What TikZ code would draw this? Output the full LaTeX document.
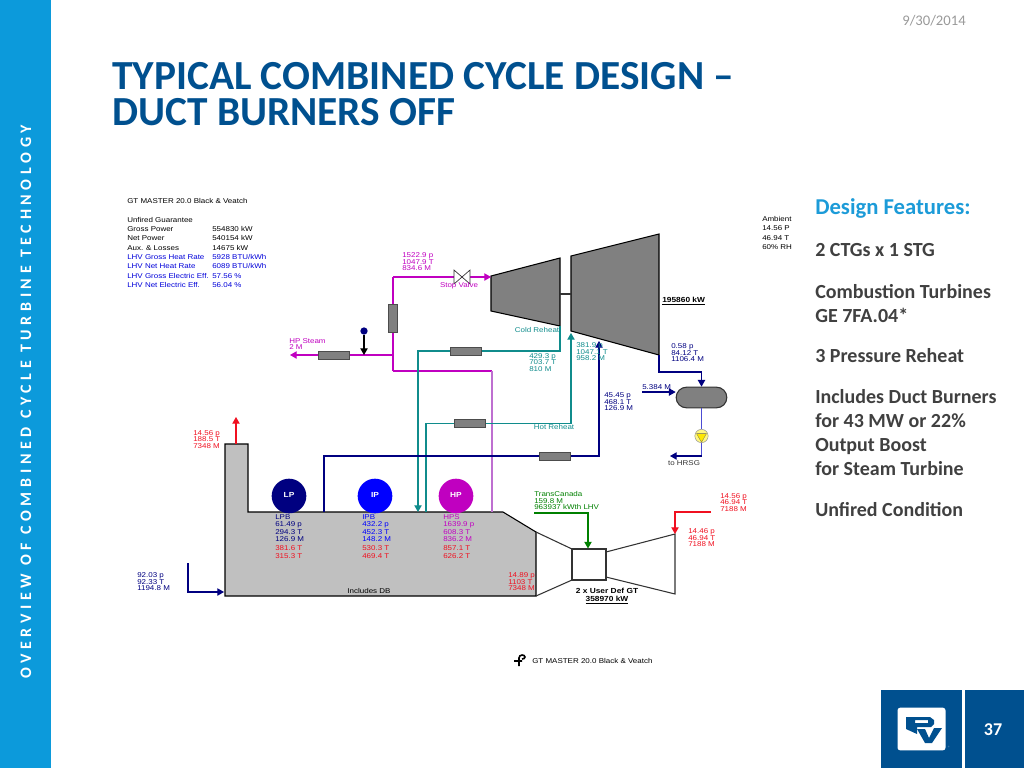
\documentclass[tikz,border=0pt]{standalone}
\usepackage{fontspec}
\setmainfont{Carlito}
\setsansfont[FakeStretch=1.14]{Liberation Sans}
\newfontfamily\spaced[LetterSpace=29]{Carlito}
\usetikzlibrary{positioning,arrows.meta,shapes.misc,shapes.geometric}
\definecolor{barblue}{HTML}{0C9ADB}
\definecolor{titleblue}{HTML}{00508F}
\definecolor{featblue}{HTML}{1C9BD8}
\definecolor{mainpink}{HTML}{C000C0}
\definecolor{hppink}{HTML}{BE6FD0}
\definecolor{reheat}{HTML}{108C8C}
\definecolor{navyline}{HTML}{000080}
\definecolor{gasgray}{HTML}{C0C0C0}
\definecolor{darkgray}{HTML}{808080}
\definecolor{gasred}{HTML}{F01020}
\definecolor{fuelgreen}{HTML}{008000}
\tikzset{
  lbl/.style={font=\sffamily\fontsize{5.25}{6}\selectfont,inner sep=0pt,anchor=west,align=left},
  boldlbl/.style={lbl,font=\sffamily\bfseries\fontsize{5.5}{6}\selectfont},
  feat/.style={inner sep=0pt,anchor=west,font=\fontsize{15}{18}\selectfont\bfseries,text=black!75,align=left},
  hx/.style={draw=black!70,fill=darkgray,line width=.5pt,minimum width=23.25pt,minimum height=6pt,inner sep=0pt},
  vhx/.style={hx,minimum width=6.5pt,minimum height=21pt},
  drum/.style={circle,minimum size=26pt,inner sep=0pt,text=white,font=\sffamily\bfseries\fontsize{5.5}{6}\selectfont},
  pipe/.style={line width=.8pt},
  tip/.style={-{Triangle[length=5pt,width=5.5pt]}},
  title/.style={anchor=west,text=titleblue,font=\fontsize{31}{27}\selectfont\bfseries,inner sep=0pt,align=left},
}
\newcommand{\three}[3]{\begin{tabular}{@{}l@{}}#1\\[-1.2pt]#2\\[-1.2pt]#3\end{tabular}}
\newcommand{\two}[2]{\begin{tabular}{@{}l@{}}#1\\[-1.2pt]#2\end{tabular}}
\newcommand{\four}[4]{\begin{tabular}{@{}l@{}}#1\\[-.5pt]#2\\[-.5pt]#3\\[-.5pt]#4\end{tabular}}
\newcommand{\redtwo}[2]{\begin{tabular}{@{}l@{}}#1\\#2\end{tabular}}
\begin{document}
\begin{tikzpicture}[x=.75pt,y=-.75pt]
\useasboundingbox (0,0) rectangle (1024,768);
% slide
\fill[barblue] (0,0) rectangle (51,768);
\node[rotate=90,text=white,font=\spaced\fontsize{12}{12}\selectfont\bfseries,inner sep=0pt] (band) at (26,402) {OVERVIEW OF COMBINED CYCLE TURBINE TECHNOLOGY};
\node[text=black!40,font=\fontsize{11}{11}\selectfont,inner sep=0pt] (date) at (934,21) {9/30/2014};
\node[title] (title) at (112,94.5) {TYPICAL COMBINED CYCLE DESIGN --\\DUCT BURNERS OFF};
% features
\node[feat,text=featblue,font=\fontsize{17}{18}\selectfont\bfseries] (f0) at (815,208) {Design Features:};
\node[feat] (f1) at (815,250) {2 CTGs x 1 STG};
\node[feat] (f2) at (815,303.5) {Combustion Turbines\\GE 7FA.04*};
\node[feat] (f3) at (815,356) {3 Pressure Reheat};
\node[feat] (f4) at (815,433) {Includes Duct Burners\\for 43 MW or 22\%\\Output Boost\\for Steam Turbine};
\node[feat] (f5) at (815,510) {Unfired Condition};
% footer
\fill[titleblue] (881,690) rectangle (962,768);
\fill[titleblue] (965,690) rectangle (1024,768);
\node[text=white,font=\fontsize{13.5}{14}\selectfont\bfseries,inner sep=0pt] (page) at (993,730) {37};
\node[fill=white,rounded corners=2pt,minimum width=36pt,minimum height=32pt,inner sep=0pt] (logo) at (921.5,729) {};
\fill[titleblue,even odd rule] (906,717) -- (930,717) -- (934,720) -- (934,724) -- (931,727) -- (917,727) -- (917,734) -- (906,729) -- cycle (915,720) rectangle (928,723);
\fill[titleblue] (917,729) -- (925,729) -- (929,738) -- (934,728) -- (942,728) -- (932,743) -- (925,743) -- cycle;
\node[text=titleblue!60,font=\fontsize{3.5}{4}\selectfont,inner sep=0pt] (reg) at (949,748) {®};
% header tables
\node[lbl] (head) at (127,201) {GT MASTER 20.0 Black \& Veatch};
\node[lbl] (t1) at (127,220) {Unfired Guarantee};
\foreach \yy/\aa/\bb/\cc in {229/Gross Power/554830 kW/black,238/Net Power/540154 kW/black,248/Aux. \& Losses/14675 kW/black,
  257/LHV Gross Heat Rate/{5928 BTU/kWh}/blue!85!black,266/LHV Net Heat Rate/{6089 BTU/kWh}/blue!85!black,
  276/LHV Gross Electric Eff./57.56 \%/blue!85!black,285/LHV Net Electric Eff./56.04 \%/blue!85!black}{
  \node[lbl,text=\cc] at (127,\yy) {\aa};
  \node[lbl,text=\cc] at (212,\yy) {\bb};
}
\node[lbl,anchor=north west,font=\sffamily\fontsize{5.25}{7}\selectfont] (amb) at (762,216) {Ambient\\14.56 P\\46.94 T\\60\% RH};
% boiler and gas turbine
\filldraw[fill=gasgray,draw=black,line width=.8pt] (225,596) -- (225,444) -- (248,444) -- (248,512) -- (503,512) -- (536,532) -- (536,596) -- cycle;
\draw[line width=.8pt,black!80] (536,532) -- (572,549) (536,596) -- (572,580);
\node[draw=black!80,line width=.8pt,minimum width=25.5pt,minimum height=23.25pt,inner sep=0pt] (gt) at (589,564.5) {};
\draw[line width=.8pt,black!80] (606,552) -- (675,534) -- (675,594) -- (606,577);
\node[drum,fill=navyline] (lp) at (289,496) {\raisebox{2pt}{LP}};
\node[drum,fill=blue] (ip) at (375,496) {\raisebox{2pt}{IP}};
\node[drum,fill=mainpink] (hp) at (456,496) {\raisebox{2pt}{HP}};
% steam turbines
\filldraw[fill=darkgray,draw=black,line width=.8pt] (491,276) -- (560,258) -- (560,326) -- (491,311) -- cycle;
\filldraw[fill=darkgray,draw=black,line width=.8pt] (571,256) -- (659,234) -- (659,355) -- (571,331) -- cycle;
\coordinate (shaft_a) at (560,294);
\coordinate (shaft_b) at (571,294);
\draw[pipe,black!80] (shaft_a) -- (shaft_b);
% pipe ends
\coordinate (main_t) at (393,277);
\coordinate (main_j) at (393,355);
\coordinate (main_b) at (393,371);
\coordinate (hps_t) at (492,371);
\coordinate (hps_b) at (492,512);
\coordinate (hp_in) at (491,277);
\coordinate (hp_out) at (290,355);
\coordinate (crh_a) at (560,326);
\coordinate (crh_b) at (560,351);
\coordinate (crh_c) at (418,351);
\coordinate (crh_d) at (418,512);
\coordinate (hrh_a) at (571,333);
\coordinate (hrh_b) at (571,423.5);
\coordinate (hrh_c) at (426,423.5);
\coordinate (hrh_d) at (426,512);
\coordinate (lps_a) at (599,341);
\coordinate (lps_b) at (599,456);
\coordinate (lps_c) at (324,456);
\coordinate (lps_d) at (324,512);
\coordinate (ex_a) at (659,355);
\coordinate (ex_b) at (659,372);
\coordinate (ex_c) at (701.5,372);
\coordinate (mk_a) at (642,392);
\coordinate (cw_a) at (701.5,456);
\coordinate (cw_b) at (670,456);
\coordinate (st_a) at (236,444);
\coordinate (st_b) at (236,417);
\coordinate (air_a) at (188,563);
\coordinate (air_b) at (188,592);
\coordinate (air_c) at (224,592);
\coordinate (fu_a) at (534,513);
\coordinate (fu_b) at (588,513);
\coordinate (rd_a) at (711,512);
\coordinate (rd_b) at (675,512);
\coordinate (rd_c) at (675,534);
% condenser, pump
\node[rounded rectangle,draw=black!80,fill=darkgray,line width=.8pt,minimum width=38pt,minimum height=15.5pt,inner sep=0pt] (cond) at (701.5,397.5) {};
\node[circle,draw=black!40,fill=yellow!50!white,minimum size=10pt,inner sep=0pt] (pump) at (701.5,436) {};
% pipes
\draw[pipe,mainpink] (main_b) -- (hps_t);
\draw[pipe,hppink] (hps_t) -- (hps_b);
\draw[pipe,tip,reheat] (crh_a) -- (crh_b) -- (crh_c) -- (crh_d);
\draw[pipe,tip,reheat] (hrh_d) -- (hrh_c) -- (hrh_b) -- (hrh_a);
\draw[pipe,tip,navyline] (lps_d) -- (lps_c) -- (lps_b) -- (lps_a);
\draw[pipe,mainpink] (main_b) -- (main_t);
\draw[pipe,tip,mainpink] (main_t) -- (hp_in);
\draw[pipe,tip,mainpink] (main_j) -- (hp_out);
\draw[pipe,tip,navyline] (ex_a) -- (ex_b) -- (ex_c) -- (cond.north);
\draw[pipe,tip,navyline] (mk_a) -- (cond.west |- mk_a);
\draw[pipe,blue!50!navyline!70!white] (cond.south) -- (pump) -- (cw_a);
\draw[pipe,tip,navyline] (cw_a) -- (cw_b);
\draw[pipe,tip,gasred] (st_a) -- (st_b);
\draw[pipe,tip,navyline] (air_a) -- (air_b) -- (air_c);
\draw[pipe,tip,fuelgreen] (fu_a) -- (fu_b) -- (fu_b |- gt.north);
\draw[pipe,tip,gasred] (rd_a) -- (rd_b) -- (rd_c);
% pump triangle, valve
\node[isosceles triangle,shape border rotate=-90,fill=yellow!90!orange,draw=black!60,line width=.2pt,minimum size=6.5pt,isosceles triangle apex angle=60,inner sep=0pt] (pump_tri) at (701.5,436.5) {};
\filldraw[fill=white,draw=black!80,line width=.5pt] (454,270) -- (470,284) -- (470,270) -- (454,284) -- cycle;
% black branch
\node[circle,fill=navyline,minimum size=5.5pt,inner sep=0pt] (dot) at (364,331) {};
\coordinate (dot_b) at (364,355);
\draw[pipe,tip,black] (dot) -- (dot_b);
% heat exchangers
\node[hx] (hx_steam) at (333.5,355) {};
\node[vhx] (hx_main) at (393,318) {};
\node[hx] (hx_crh) at (465.5,351) {};
\node[hx] (hx_hrh) at (469.5,423.5) {};
\node[hx] (hx_lps) at (554.5,456) {};
% labels
\node[lbl,text=mainpink] (l1) at (402,262.5) {\three{1522.9 p}{1047.9 T}{834.6 M}};
\node[lbl,text=mainpink,anchor=center] (l2) at (459,286) {Stop Valve};
\node[lbl,text=mainpink] (l3) at (289,345) {\two{HP Steam}{2 M}};
\node[lbl,text=reheat,anchor=center] (l4) at (537,330) {Cold Reheat};
\node[lbl,text=reheat] (l5) at (529,363) {\three{429.3 p}{703.7 T}{810 M}};
\node[lbl,text=reheat] (l6) at (576,352.5) {\three{381.9 p}{1047.1 T}{958.2 M}};
\node[lbl,text=reheat,anchor=center] (l7) at (554,427) {Hot Reheat};
\node[lbl,text=navyline] (l8) at (671,353.5) {\three{0.58 p}{84.12 T}{1106.4 M}};
\node[lbl,text=navyline] (l9) at (604,402.5) {\three{45.45 p}{468.1 T}{126.9 M}};
\node[lbl,text=navyline] (l10) at (642,387) {5.384 M};
\node[lbl,text=black!80,anchor=center] (l11) at (684,463) {to HRSG};
\node[boldlbl] (l12) at (662,301) {\underline{195860 kW}};
\node[lbl,text=gasred] (l13) at (193,440) {\three{14.56 p}{188.5 T}{7348 M}};
\node[lbl,text=navyline] (l14) at (137,582.5) {\three{92.03 p}{92.33 T}{1194.8 M}};
\node[lbl,text=navyline] (l15) at (275,529) {\four{LPB}{61.49 p}{294.3 T}{126.9 M}};
\node[lbl,text=blue] (l16) at (362,529) {\four{IPB}{432.2 p}{452.3 T}{148.2 M}};
\node[lbl,text=mainpink] (l17) at (443,529) {\four{HPS}{1639.9 p}{608.3 T}{836.2 M}};
\node[lbl,text=gasred] (l18) at (275,553) {\redtwo{381.6 T}{315.3 T}};
\node[lbl,text=gasred] (l19) at (362,553) {\redtwo{530.3 T}{469.4 T}};
\node[lbl,text=gasred] (l20) at (443,553) {\redtwo{857.1 T}{626.2 T}};
\node[lbl,anchor=center] (l21) at (369,591) {Includes DB};
\node[lbl,text=gasred] (l22) at (508,582.5) {\three{14.89 p}{1103 T}{7348 M}};
\node[lbl,text=fuelgreen] (l23) at (534,501.5) {\three{TransCanada}{159.8 M}{963937 kWth LHV}};
\node[lbl,text=gasred] (l24) at (720,503) {\three{14.56 p}{46.94 T}{7188 M}};
\node[lbl,text=gasred] (l25) at (688,538.5) {\three{14.46 p}{46.94 T}{7188 M}};
\node[boldlbl,anchor=center] (l26) at (607,591) {2 x User Def GT};
\node[boldlbl,anchor=center] (l27) at (607,600) {\underline{358970 kW}};
\node[lbl] (l28) at (532,661) {GT MASTER 20.0 Black \& Veatch};
\draw[line width=1.2pt] (514,661) -- (522,661) (519,666) -- (519,658) to[out=90,in=180] (522,655) to[out=0,in=90] (525,657) to[out=-90,in=0] (522,659);
\end{tikzpicture}
\end{document}
